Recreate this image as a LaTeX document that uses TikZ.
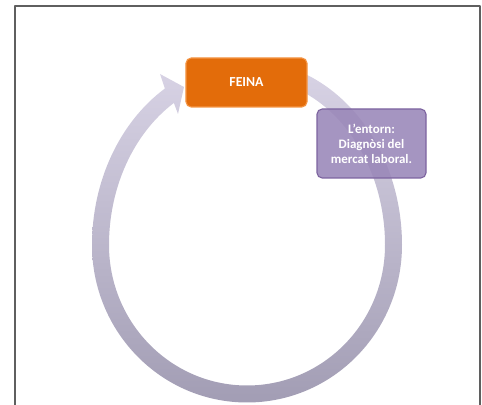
\documentclass[tikz,border=0pt]{standalone}
\usepackage{fontspec}
\setmainfont{Carlito}
\definecolor{feinaorange}{RGB}{227,108,10}
\definecolor{feinaedge}{RGB}{244,150,70}
\definecolor{entornfill}{RGB}{153,134,184}
\definecolor{entornedge}{RGB}{125,100,160}
\definecolor{ringtop}{RGB}{216,211,229}
\definecolor{ringbot}{RGB}{162,157,180}
\definecolor{framegray}{RGB}{95,95,95}

\begin{document}
\begin{tikzpicture}[x=0.25mm, y=0.25mm, font=\bfseries, line join=round,
	box/.style={rounded corners=1.3mm, line width=0.8pt, text=white, align=center, inner sep=0pt}]
	\useasboundingbox (0,0) rectangle (482,405);
	\draw[framegray, line width=0.5mm] (15,0) -- (15,399) -- (480,399) -- (480,0);
	\coordinate (c) at (247,160);
	% ring with its head
	\shade[top color=ringtop, bottom color=ringbot]
	([shift={(75:155 and 184.5)}]c) arc[start angle=75, end angle=0, x radius=155, y radius=184.5]
	arc[start angle=0, end angle=-180, x radius=155, y radius=157.5]
	arc[start angle=180, end angle=122, x radius=155, y radius=184.5]
	-- (160,331) -- (184,318) -- (178,291)
	-- ([shift={(122:138 and 167.5)}]c) arc[start angle=122, end angle=180, x radius=138, y radius=167.5]
	arc[start angle=180, end angle=360, x radius=138, y radius=140.5]
	arc[start angle=0, end angle=75, x radius=138, y radius=167.5] -- cycle;
	\node[box, fill=entornfill, draw=entornedge, fill opacity=0.88, text opacity=1,
		minimum width=27.25mm, minimum height=17.25mm,
		font=\bfseries\fontsize{9.2}{10.7}\selectfont] (entorn) at (371.5,261.5) {L'entorn:\\Diagnòsi del\\mercat laboral.};
	\node[box, fill=feinaorange, draw=feinaedge, minimum width=30.25mm, minimum height=12.25mm,
		font=\bfseries\fontsize{9.8}{12}\selectfont] (feina) at (246.5,322.5) {FEINA};
\end{tikzpicture}
\end{document}
